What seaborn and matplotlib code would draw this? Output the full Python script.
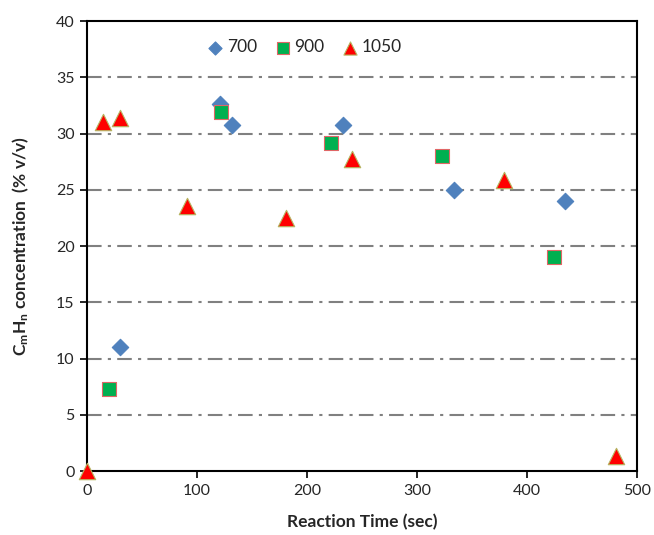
import matplotlib
matplotlib.use("Agg")
import matplotlib.pyplot as plt
import seaborn as sns
import pandas as pd

# Data
t700 = [30, 121, 132, 233, 334, 435]
c700 = [11.0, 32.6, 30.8, 30.8, 25.0, 24.0]
t900 = [20, 122, 222, 323, 425]
c900 = [7.3, 31.9, 29.2, 28.0, 19.0]
t1050 = [0, 15, 30, 91, 181, 241, 379, 481]
c1050 = [0.0, 31.0, 31.4, 23.6, 22.5, 27.7, 25.9, 1.3]

x_ticks = [0, 100, 200, 300, 400, 500]
y_ticks = [0, 5, 10, 15, 20, 25, 30, 35, 40]

sns.set_theme(style="white")
plt.rcParams['font.family'] = ['Lato', 'DejaVu Sans']
plt.rcParams['mathtext.fontset'] = 'custom'
plt.rcParams['mathtext.rm'] = 'Lato'
plt.rcParams['mathtext.it'] = 'Lato:italic'
plt.rcParams['mathtext.bf'] = 'Lato:bold'

fig = plt.figure(figsize=(6.54, 5.35), dpi=100)
ax = fig.add_axes([0.133, 0.1196, 0.841, 0.8411])

series = [
    ("700", t700, c700, "D", "#4F81BD", "#4F81BD", 70),
    ("900", t900, c900, "s", "#00B050", "#E06666", 115),
    ("1050", t1050, c1050, "^", "#FF0000", "#B5B560", 140),
]
for name, xs, ys, mk, fc, ec, s in series:
    df = pd.DataFrame({"t": xs, "c": ys})
    sns.scatterplot(data=df, x="t", y="c", marker=mk, color=fc, edgecolor=ec,
                    linewidth=0.8, s=s, ax=ax, label=name, zorder=3, clip_on=False)

ax.set_xlim(0, 500)
ax.set_ylim(0, 40)
ax.set_xticks(x_ticks)
ax.set_yticks(y_ticks)
ax.tick_params(axis='both', which='major', direction='out', length=5, width=1.2,
               color='black', labelsize=11.5, bottom=True, left=True, pad=4)

for yv in y_ticks[1:-1]:
    ax.axhline(yv, color='#808080', linestyle=(0, (7, 3, 1.5, 3)), linewidth=1.5, zorder=1)

for sp in ax.spines.values():
    sp.set_color('black')
    sp.set_linewidth(1.5)
    sp.set_visible(True)

ax.set_xlabel("Reaction Time (sec)", fontsize=12.5, fontweight='bold', labelpad=12)
ax.set_ylabel(r"$\mathbf{C_m H_n}$ concentration  (% v/v)", fontsize=12.5,
              fontweight='bold', labelpad=18)

leg = ax.legend(loc='center', bbox_to_anchor=(0.395, 0.942), ncol=3, frameon=False,
                fontsize=12.5, handletextpad=0.15, columnspacing=1.0, handlelength=1.0,
                markerscale=0.8, borderaxespad=0)

fig.savefig("out.png", dpi=100, facecolor='white')
